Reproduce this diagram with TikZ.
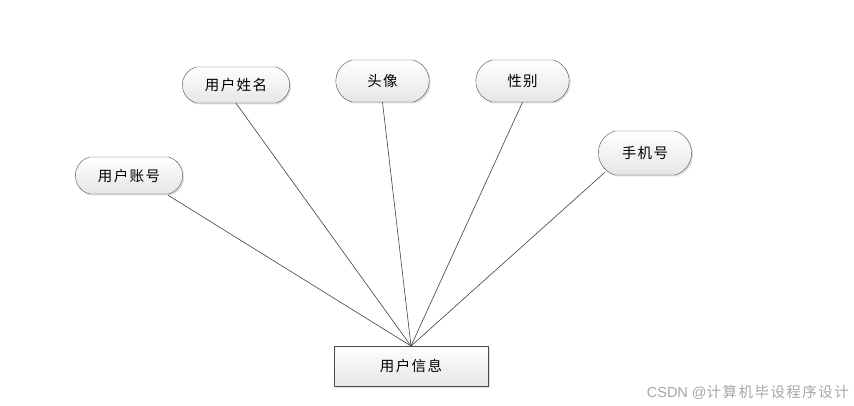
\documentclass[tikz,border=0pt]{standalone}
\usepackage{fontspec}
\newfontfamily\cjk[LetterSpace=10]{Noto Sans CJK SC}
\newfontfamily\creditfont{Liberation Sans}
\usetikzlibrary{shadows,shapes.misc}
\tikzset{
  attr/.style={draw=black!70, rounded rectangle, rounded rectangle arc length=150, minimum width=100pt, minimum height=42pt,
    top color=white, bottom color=black!10, drop shadow={shadow xshift=1.5pt, shadow yshift=-1.5pt, opacity=0.25},
    font=\cjk\fontsize{14.5}{17}\selectfont},
  entity/.style={draw=black!70, minimum width=154pt, minimum height=40pt,
    top color=white, bottom color=black!10, drop shadow={shadow xshift=1.5pt, shadow yshift=-1.5pt, opacity=0.25},
    font=\cjk\fontsize{14.5}{17}\selectfont},
  link/.style={draw=black!75, line width=0.6pt}
}
\begin{document}
\begin{tikzpicture}[x=1pt,y=-1pt]
  \useasboundingbox (0,0) rectangle (854,406);
  % Entidad
  \node[entity] (info) at (411,366) {用户信息};
  \coordinate (hub) at (411,346);

  % Atributos
  \node[attr, minimum width=114pt, minimum height=37pt] (account) at (129,175.5) {用户账号};
  \node[attr, minimum width=114pt, minimum height=36pt] (name) at (236,85) {用户姓名};
  \node[attr] (avatar) at (382.5,81) {头像};
  \node[attr] (gender) at (522.5,81) {性别};
  \node[attr, minimum width=100pt, minimum height=44pt] (phone) at (645,153) {手机号};

  % Lineas
  \draw[link] (account.south) ++(39,1) -- (hub);
  \draw[link] (name.south) -- (hub);
  \draw[link] (avatar.south) -- (hub);
  \draw[link] (gender.south) -- (hub);
  \draw[link] (phone.south) ++(-40,-3) -- (hub);

  % Marca
  \node[text=black!35, font=\creditfont\fontsize{14.5}{16}\selectfont, anchor=east, inner sep=0pt] (credit) at (849,392)
    {CSDN @{\cjk\fontsize{14.5}{16}\selectfont 计算机毕设程序设计}};
\end{tikzpicture}
\end{document}
